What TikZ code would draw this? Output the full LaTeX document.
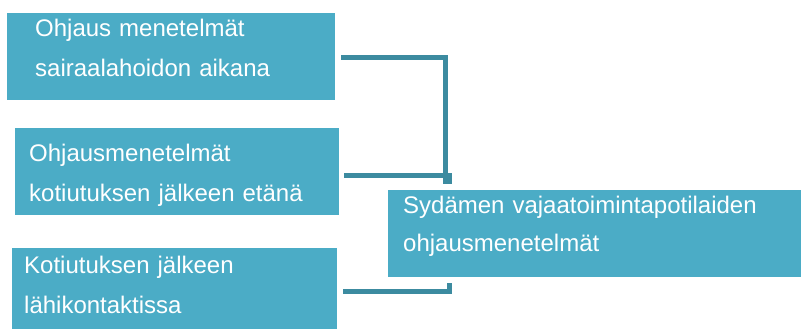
\documentclass[tikz,border=0pt]{standalone}
\usepackage{fontspec}
\setmainfont{Liberation Sans}
\usepackage{tikz}
\definecolor{box_blue}{RGB}{75,172,198}
\definecolor{edge_teal}{RGB}{60,139,160}

\begin{document}
\begin{tikzpicture}[x=1pt,y=-1pt]
    \tikzstyle{box}=[rectangle, fill=box_blue, draw=none, text=white, align=left, anchor=north west, inner ysep=0pt, font=\fontsize{24}{40}\selectfont]
    \tikzstyle{link}=[draw=edge_teal, line width=5pt]
    \useasboundingbox (0,0) rectangle (801,329);

    \node[box, inner xsep=28pt, text width=272pt, text height=23pt, text depth=64pt] (b1) at (7,13) {Ohjaus menetelmät\\sairaalahoidon aikana};
    \node[box, inner xsep=14pt, text width=296pt, text height=33.7pt, text depth=53.3pt] (b2) at (15,128) {Ohjausmenetelmät\\kotiutuksen jälkeen etänä};
    \node[box, inner xsep=12pt, text width=301pt, text height=25.3pt, text depth=61.7pt] (b3) at (12,248) {Kotiutuksen jälkeen\\lähikontaktissa};
    \node[box, inner xsep=15pt, text width=390pt, text height=23.3pt, text depth=63.7pt, font=\fontsize{24}{38.4}\selectfont] (b4) at (388,190) {Sydämen vajaatoimintapotilaiden\\ohjausmenetelmät};

    % free ends just off the central box
    \coordinate (j1) at (445.5,184);
    \coordinate (j2) at (449.5,184);
    \coordinate (j3) at (449.5,283);

    \draw[link] ([xshift=6pt,yshift=-1pt]b1.east) -| (j1);
    \draw[link] ([xshift=5pt,yshift=-3.5pt]b2.east) -| (j2);
    \draw[link] ([xshift=6pt]b3.east) -| (j3);
\end{tikzpicture}
\end{document}
